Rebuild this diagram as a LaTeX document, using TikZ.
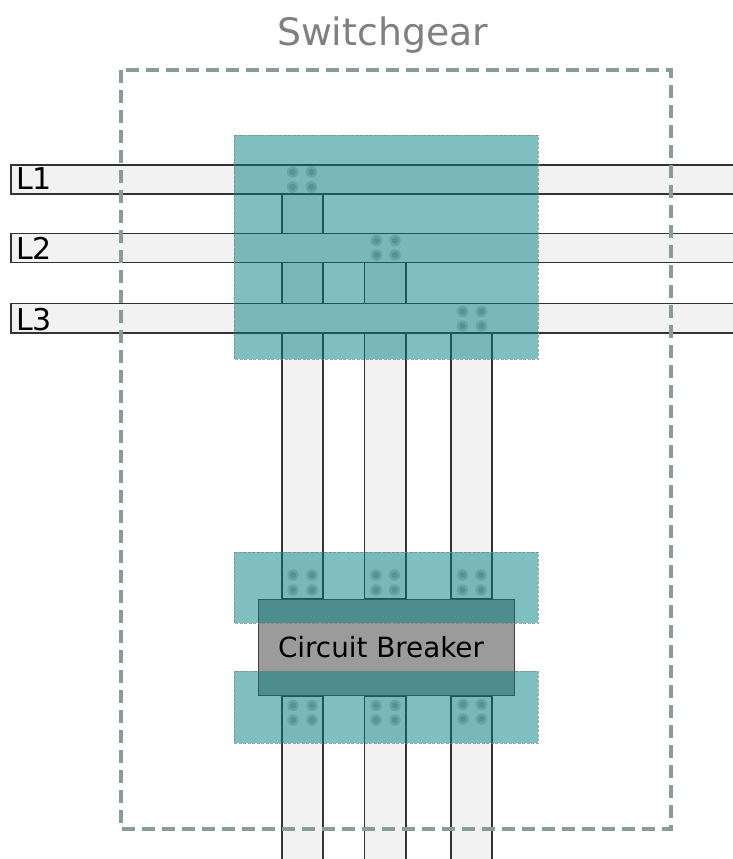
\documentclass[tikz,border=0pt]{standalone}
\usepackage{fontspec}
\setmainfont{DejaVu Sans}
\definecolor{busgray}{HTML}{F2F2F2}
\definecolor{frameteal}{HTML}{8A9C9A}
\definecolor{breakergray}{HTML}{9B9B9B}
\definecolor{boltteal}{HTML}{2F6F6C}
\tikzset{
  busbar/.style={draw=black!80, line width=1.2pt, fill=busgray},
  shroud/.style={fill=teal, fill opacity=0.5, draw=gray, draw opacity=0.7, dash pattern=on 3pt off 1.5pt, line width=1pt},
  framebox/.style={draw=frameteal, line width=3.4pt, dash pattern=on 13pt off 7pt},
  boltouter/.style={circle, fill=boltteal, fill opacity=0.25, inner sep=0pt, minimum size=11.5pt},
  boltinner/.style={circle, fill=boltteal, fill opacity=0.3, inner sep=0pt, minimum size=6.5pt}
}
\newcommand{\boltgroup}[4]{%
  \foreach \bx in {#1,#2}
    \foreach \by in {#3,#4} {
      \node[boltouter] at (\bx,\by) {};
      \node[boltinner] at (\bx,\by) {};
    }%
}
\begin{document}
\begin{tikzpicture}[x=1pt, y=-1pt]
  \useasboundingbox (0,0) rectangle (733,859);

  % vertical bars
  \draw[busbar] (282,194) rectangle (323,599);
  \draw[busbar] (364.5,262) rectangle (406,599);
  \draw[busbar] (451,333) rectangle (492,599);
  \draw[busbar] (282,696) rectangle (323,875);
  \draw[busbar] (364.5,696) rectangle (406,875);
  \draw[busbar] (451,696) rectangle (492,875);

  % phase bars
  \draw[busbar] (11,165) rectangle (750,194);
  \draw[busbar] (11,233.5) rectangle (750,262.5);
  \draw[busbar] (11,303.5) rectangle (750,333);

  \node[anchor=base west, inner sep=0pt, font=\fontsize{30}{30}\selectfont] (l1label) at (16,189) {L1};
  \node[anchor=base west, inner sep=0pt, font=\fontsize{30}{30}\selectfont] (l2label) at (16,259) {L2};
  \node[anchor=base west, inner sep=0pt, font=\fontsize{30}{30}\selectfont] (l3label) at (16,330) {L3};

  % breaker
  \draw[draw=black!50!gray!85!purple, line width=1pt, fill=breakergray] (258,599.5) rectangle (514,695.5);
  \node[anchor=base, inner sep=0pt, font=\fontsize{27.8}{28}\selectfont] (breakerlabel) at (381,657) {Circuit Breaker};

  % shrouds
  \path[shroud] (234,135) rectangle (538,359);
  \path[shroud] (234,552) rectangle (538,623);
  \path[shroud] (234,671) rectangle (538,743);

  \boltgroup{292.5}{311.5}{172}{187}
  \boltgroup{376.5}{395}{240.5}{255}
  \boltgroup{462.5}{481.5}{311.5}{326}
  \boltgroup{293}{312}{575}{590}
  \boltgroup{376}{394.5}{575}{590}
  \boltgroup{462.5}{481}{575}{590}
  \boltgroup{293}{312}{705.5}{720}
  \boltgroup{376}{395}{705.5}{720}
  \boltgroup{463}{481.5}{704.5}{719}

  \draw[framebox] (121,70) rectangle (671,829);
  \node[anchor=base, inner sep=0pt, text=gray, font=\fontsize{37.8}{38}\selectfont] (switchgearlabel) at (382.5,46) {Switchgear};
\end{tikzpicture}
\end{document}
